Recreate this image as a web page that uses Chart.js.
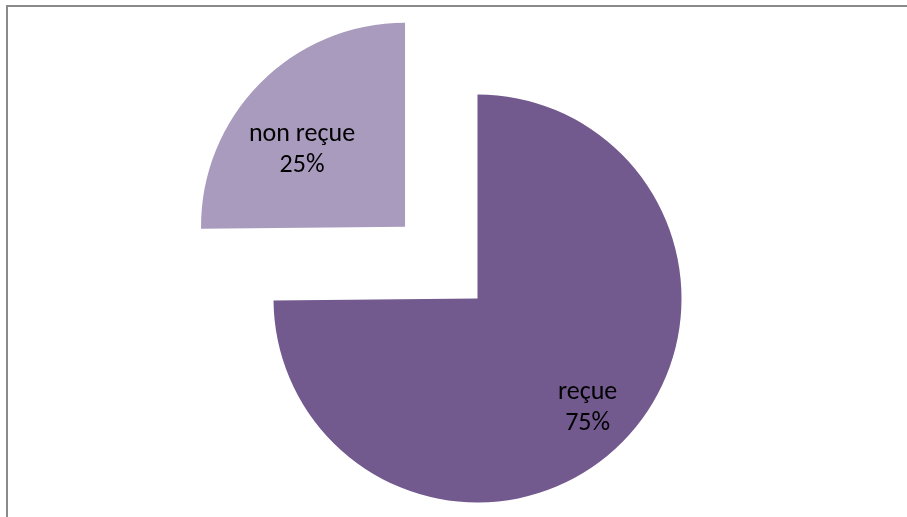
<!DOCTYPE html>
<html>
<head>
<meta charset="utf-8">
<script src="https://cdn.jsdelivr.net/npm/chart.js@4/dist/chart.umd.min.js"></script>
<style>
  html, body { margin: 0; padding: 0; background: #fff; }
  #wrap { position: relative; width: 907px; height: 517px; overflow: hidden; }
  #frame { position: absolute; left: 6px; top: 5px; width: 910px; height: 530px; border: 2px solid #8a8a8a; box-sizing: border-box; }
  canvas { position: absolute; left: 0; top: 0; }
</style>
</head>
<body>
<div id="wrap">
  <div id="frame"></div>
  <canvas id="chart" width="907" height="517"></canvas>
</div>
<script>
// data
const categories = ["reçue", "non reçue"];
const values = [74.85, 25.15];
const colors = ["#72598E", "#A99BBE"];
const sliceOffsets = [0, 408];

// where each label sits inside its slice (fraction of radius, angle tweak in degrees)
const labelRadius = [0.76, 0.63];
const labelTurn = [0, -8];

const total = values.reduce((a, b) => a + b, 0);

const pieLabels = {
  id: "pieLabels",
  afterDatasetsDraw(chart) {
    const ctx = chart.ctx;
    const arcs = chart.getDatasetMeta(0).data;
    ctx.save();
    ctx.fillStyle = "#000";
    ctx.font = "26px Carlito, Lato, sans-serif";
    ctx.textAlign = "center";
    ctx.textBaseline = "middle";
    arcs.forEach((arc, i) => {
      const p = arc.getProps(["x", "y", "startAngle", "endAngle", "outerRadius"], true);
      const mid = (p.startAngle + p.endAngle) / 2;
      const shift = (sliceOffsets[i] || 0) / 4;
      const cx = p.x + Math.cos(mid) * shift;
      const cy = p.y + Math.sin(mid) * shift;
      const a = mid + labelTurn[i] * Math.PI / 180;
      const lx = cx + Math.cos(a) * p.outerRadius * labelRadius[i];
      const ly = cy + Math.sin(a) * p.outerRadius * labelRadius[i];
      const pct = Math.round(values[i] / total * 100) + "%";
      ctx.fillText(categories[i], lx, ly - 15);
      ctx.fillText(pct, lx, ly + 16);
    });
    ctx.restore();
  }
};

new Chart(document.getElementById("chart"), {
  type: "pie",
  data: {
    labels: categories,
    datasets: [{
      data: values,
      backgroundColor: colors,
      borderWidth: 0,
      offset: sliceOffsets,
      hoverOffset: 0
    }]
  },
  options: {
    responsive: false,
    devicePixelRatio: 1,
    animation: false,
    radius: 204,
    layout: { padding: { left: 48, top: 80, right: 0, bottom: 0 } },
    plugins: {
      legend: { display: false },
      tooltip: { enabled: false }
    }
  },
  plugins: [pieLabels]
});
</script>
</body>
</html>
